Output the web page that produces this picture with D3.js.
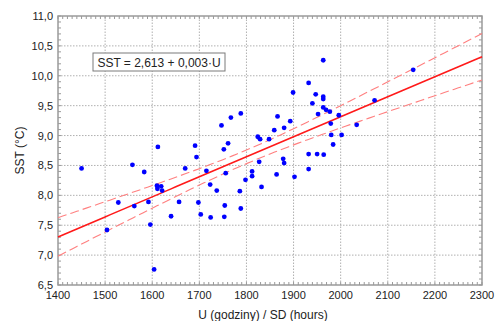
<!DOCTYPE html>
<html>
<head>
<meta charset="utf-8">
<script src="https://cdn.jsdelivr.net/npm/d3@7"></script>
<style>
  body { margin: 0; background: #fff; }
  text { font-family: "Liberation Sans", Arial, sans-serif; fill: #222; }
</style>
</head>
<body>
<svg id="chart" width="495" height="321"></svg>
<script>
// sunshine hours (U) and sea surface temperature (SST)
const hours = [1450, 1504, 1528, 1558, 1562, 1583, 1592, 1596, 1604, 1610,
  1611, 1612, 1619, 1621, 1640, 1657, 1670, 1691, 1694, 1698,
  1703, 1715, 1723, 1724, 1737, 1747, 1752, 1753, 1754, 1756,
  1761, 1767, 1786, 1788, 1788, 1798, 1812, 1812, 1824, 1827,
  1829, 1832, 1848, 1859, 1864, 1866, 1878, 1880, 1880, 1893,
  1899, 1902, 1932, 1932, 1932, 1940, 1947, 1950, 1952, 1963,
  1963, 1963, 1963, 1964, 1969, 1977, 1979, 1980, 1984, 1996,
  2002, 2034, 2072, 2154];
const sst = [8.45, 7.42, 7.88, 8.51, 7.82, 8.39, 7.89, 7.51, 6.76, 8.16,
  8.11, 8.81, 8.15, 8.08, 7.65, 7.89, 8.45, 8.83, 8.64, 7.88,
  7.68, 8.41, 8.18, 7.63, 8.08, 9.17, 8.77, 7.64, 7.83, 8.37,
  8.87, 9.30, 8.07, 7.78, 9.37, 8.26, 8.40, 8.32, 8.98, 8.56,
  8.94, 8.14, 8.94, 9.09, 8.35, 9.32, 8.61, 8.54, 9.13, 9.24,
  9.72, 8.31, 9.88, 8.69, 8.44, 9.54, 9.69, 8.69, 9.36, 10.26,
  9.65, 9.61, 9.47, 8.68, 9.43, 9.40, 9.20, 9.01, 8.85, 9.34,
  9.01, 9.18, 9.59, 10.10];
const xTicks = [1400, 1500, 1600, 1700, 1800, 1900, 2000, 2100, 2200, 2300];
const yTicks = [6.5, 7.0, 7.5, 8.0, 8.5, 9.0, 9.5, 10.0, 10.5, 11.0];
const equation = "SST = 2,613 + 0,003\u00b7U";

const margin = { top: 16, right: 13, bottom: 36, left: 58 };
const width = 495, height = 321;
const svg = d3.select("#chart");

const x = d3.scaleLinear().domain([1400, 2300]).range([margin.left, width - margin.right]);
const y = d3.scaleLinear().domain([6.5, 11]).range([height - margin.bottom, margin.top]);
const comma = d => d3.format(".1f")(d).replace(".", ",");

// grid
svg.append("g").selectAll("line").data(xTicks.slice(1, -1)).join("line")
  .attr("x1", d => x(d)).attr("x2", d => x(d))
  .attr("y1", y(6.5)).attr("y2", y(11))
  .attr("stroke", "#b0b0b0").attr("stroke-dasharray", "1.5,1.5");
svg.append("g").selectAll("line").data(yTicks.slice(1, -1)).join("line")
  .attr("y1", d => y(d)).attr("y2", d => y(d))
  .attr("x1", x(1400)).attr("x2", x(2300))
  .attr("stroke", "#b0b0b0").attr("stroke-dasharray", "1.5,1.5");

// minor ticks pointing inwards on all four sides
const xMinor = d3.range(1400, 2301, 10);
const yMinor = d3.range(65, 111, 1).map(d => d / 10);
const ticks = svg.append("g").attr("stroke", "#999").attr("stroke-width", 1);
[y(6.5), y(11)].forEach((yy, i) => {
  ticks.append("g").selectAll("line").data(xMinor).join("line")
    .attr("x1", d => x(d)).attr("x2", d => x(d))
    .attr("y1", yy).attr("y2", i === 0 ? yy - 3 : yy + 3);
});
[x(1400), x(2300)].forEach((xx, i) => {
  ticks.append("g").selectAll("line").data(yMinor).join("line")
    .attr("y1", d => y(d)).attr("y2", d => y(d))
    .attr("x1", xx).attr("x2", i === 0 ? xx + 3 : xx - 3);
});

// frame
svg.append("rect")
  .attr("x", x(1400)).attr("y", y(11))
  .attr("width", x(2300) - x(1400)).attr("height", y(6.5) - y(11))
  .attr("fill", "none").attr("stroke", "#9a9a9a").attr("stroke-width", 1.5);

// tick labels
svg.append("g").selectAll("text").data(xTicks).join("text")
  .attr("x", d => x(d)).attr("y", y(6.5) + 14)
  .attr("text-anchor", "middle").attr("font-size", 11)
  .text(d => d);
svg.append("g").selectAll("text").data(yTicks).join("text")
  .attr("x", x(1400) - 5).attr("y", d => y(d) + 4)
  .attr("text-anchor", "end").attr("font-size", 11)
  .text(comma);

// axis titles
svg.append("text")
  .attr("x", 263).attr("y", 319)
  .attr("text-anchor", "middle").attr("font-size", 12)
  .text("U (godziny) / SD (hours)");
svg.append("text")
  .attr("transform", `translate(24, ${(y(6.5) + y(11)) / 2}) rotate(-90)`)
  .attr("text-anchor", "middle").attr("font-size", 12)
  .text("SST (\u00b0C)");

// least squares fit with 95% confidence band for the mean
const n = hours.length;
const mx = d3.mean(hours), my = d3.mean(sst);
const sxx = d3.sum(hours, d => (d - mx) ** 2);
const sxy = d3.sum(hours, (d, i) => (d - mx) * (sst[i] - my));
const slope = sxy / sxx, intercept = my - slope * mx;
const s = Math.sqrt(d3.sum(hours, (d, i) => (sst[i] - intercept - slope * d) ** 2) / (n - 2));
const t = 1.993;
const grid = d3.range(1400, 2301, 10);
const band = k => grid.map(u => [u, intercept + slope * u + k * t * s * Math.sqrt(1 / n + (u - mx) ** 2 / sxx)]);
const line = d3.line().x(d => x(d[0])).y(d => y(d[1]));

const plot = svg.append("g");
[-1, 1].forEach(k => {
  plot.append("path").datum(band(k)).attr("d", line)
    .attr("fill", "none").attr("stroke", "#ff8080").attr("stroke-width", 1.1)
    .attr("stroke-dasharray", "9,4");
});
plot.append("path").datum(band(0)).attr("d", line)
  .attr("fill", "none").attr("stroke", "#ff1a1a").attr("stroke-width", 1.6);

plot.append("g").selectAll("circle").data(hours).join("circle")
  .attr("cx", d => x(d)).attr("cy", (d, i) => y(sst[i]))
  .attr("r", 2.4).attr("fill", "#0000ff");

// equation box
const eq = svg.append("g");
eq.append("rect").attr("x", 93).attr("y", 53).attr("width", 132).attr("height", 18)
  .attr("fill", "#fff").attr("stroke", "#7a7a7a").attr("stroke-width", 1);
eq.append("text").attr("x", 159).attr("y", 66.5)
  .attr("text-anchor", "middle").attr("font-size", 12)
  .text(equation);
</script>
</body>
</html>
